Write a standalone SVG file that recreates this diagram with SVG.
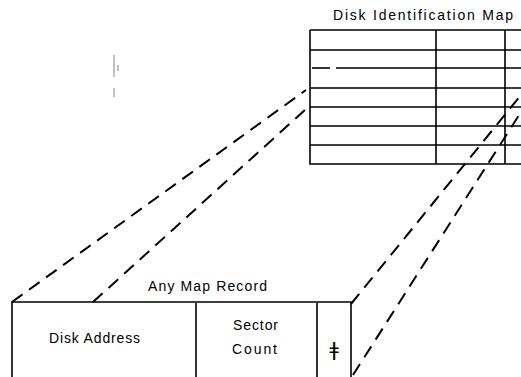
<svg xmlns="http://www.w3.org/2000/svg" width="521" height="377" viewBox="0 0 521 377">
<style>
.ln{stroke:#000;stroke-width:1.6;fill:none}
.dash{stroke:#000;stroke-width:2;fill:none;stroke-dasharray:13 8}
.t{font-family:"Liberation Sans",Arial,sans-serif;font-size:14px;fill:#000}
</style>
<rect width="521" height="377" fill="#fff"/>
<g id="noise" stroke="#999" stroke-width="1.2">
<line x1="114" y1="55" x2="114" y2="77"/>
<line x1="118" y1="65" x2="118" y2="71"/>
<line x1="114" y1="88" x2="114" y2="97"/>
</g>
<g id="map">
<text class="t" x="333" y="20" textLength="180" lengthAdjust="spacing">Disk Identification Map</text>
<path class="ln" d="M310 30 H521 M310 30 V164 H521 M436 30 V164 M505 30 V164"/>
<path class="ln" d="M310 50 H521 M336 68 H521 M310 88 H521 M310 107 H521 M310 126 H521 M310 145 H521"/>
<path class="ln" d="M312 68 H330"/>
</g>
<g id="record">
<text class="t" x="148" y="291" textLength="119" lengthAdjust="spacing">Any Map Record</text>
<path class="ln" d="M12 377 V302 H351 V377 M196 303 V377 M317 303 V377"/>
<text class="t" x="49" y="343" textLength="91" lengthAdjust="spacing">Disk Address</text>
<text class="t" x="233" y="330" textLength="45" lengthAdjust="spacing">Sector</text>
<text class="t" x="232" y="354" textLength="45" lengthAdjust="spacing">Count</text>
<text x="334" y="356" text-anchor="middle" style="font-family:'DejaVu Sans',sans-serif;font-size:20px">ǂ</text>
</g>
<g id="connectors">
<line class="dash" x1="12" y1="302" x2="306" y2="90"/>
<line class="dash" x1="93" y1="302" x2="306" y2="109"/>
<line class="dash" x1="351" y1="304" x2="521" y2="95"/>
<line class="dash" x1="353" y1="375" x2="521" y2="112"/>
</g>
</svg>
